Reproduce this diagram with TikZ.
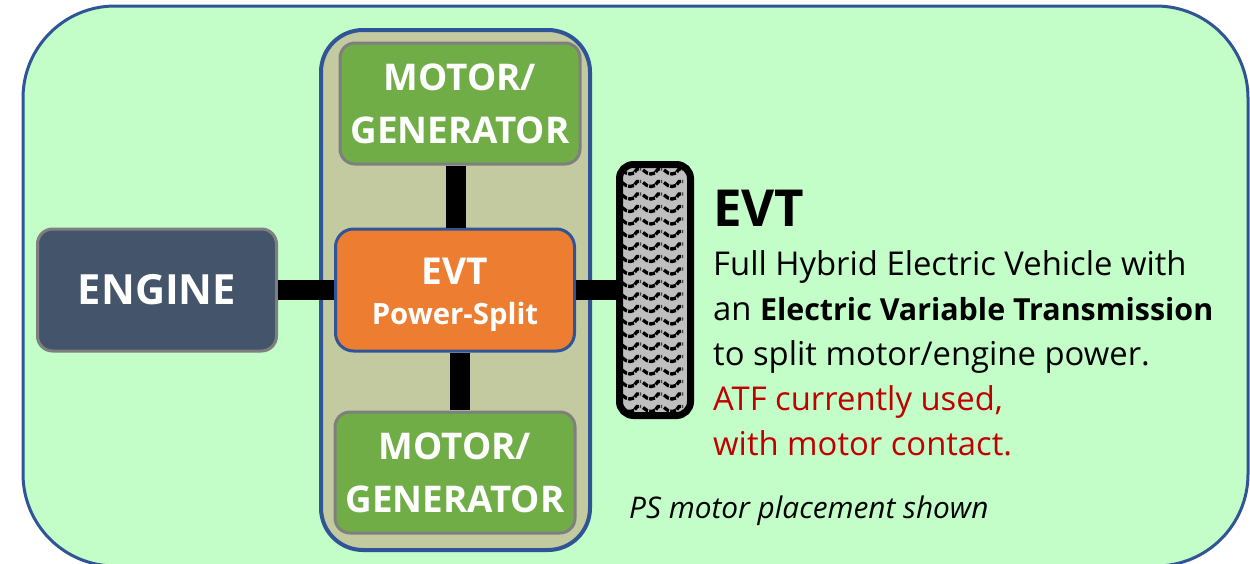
\documentclass[tikz,border=0pt]{standalone}
\usepackage{fontspec}
\setmainfont{Open Sans}
\definecolor{outerfill}{HTML}{C3FDC8}
\definecolor{blueline}{HTML}{2F5597}
\definecolor{panelfill}{HTML}{C4CAA0}
\definecolor{greenbox}{HTML}{70AD47}
\definecolor{greyline}{HTML}{7F7F7F}
\definecolor{navybox}{HTML}{44546A}
\definecolor{orangebox}{HTML}{ED7D31}
\definecolor{redtext}{HTML}{C00000}
\definecolor{treadgrey}{HTML}{BFBFBF}
\tikzset{
  motorbox/.style={draw=greyline,line width=3pt,fill=greenbox,rounded corners=15pt,minimum width=240pt,minimum height=121pt,inner sep=0pt,align=center,text=white,font=\fontsize{36.8}{53}\selectfont\bfseries},
  shaft/.style={line width=20pt,black},
  desc/.style={anchor=base west,inner sep=0pt,font=\fontsize{32.8}{36}\selectfont}
}
\begin{document}
\begin{tikzpicture}[x=1pt,y=-1pt]
\useasboundingbox (0,0) rectangle (1250,563);
\clip (0,0) rectangle (1250,563);
\draw[blueline,line width=3pt,fill=outerfill,rounded corners=92pt] (23,6) rectangle (1248,566);
\node[draw=blueline,line width=4pt,fill=panelfill,rounded corners=42pt,minimum width=269pt,minimum height=520pt,inner sep=0pt] (panel) at (455.5,290) {};
\node[motorbox] (mtop) at (460,103.5) {MOTOR/\\GENERATOR};
\node[motorbox] (mbot) at (455,472.5) {MOTOR/\\GENERATOR};
\node[draw=greyline,line width=3pt,fill=navybox,rounded corners=15pt,minimum width=239pt,minimum height=122pt,inner sep=0pt,text=white,font=\fontsize{41.6}{48}\selectfont\bfseries] (engine) at (157,290) {\raisebox{-1pt}{ENGINE}};
\node[draw=blueline,line width=3pt,fill=orangebox,rounded corners=18pt,minimum width=239pt,minimum height=122pt,inner sep=0pt] (evt) at (455,290) {};
\node[text=white,inner sep=0pt,font=\fontsize{37}{40}\selectfont\bfseries] (evtt) at (455,271) {EVT};
\node[text=white,inner sep=0pt,font=\fontsize{29.3}{32}\selectfont\bfseries] (evts) at (455,317) {Power-Split};
\node[draw=black,line width=7pt,fill=treadgrey,rounded corners=14pt,minimum width=71pt,minimum height=251pt,inner sep=0pt] (tire) at (655,290) {};
\begin{scope}
\clip (622,167) rectangle (688,414);
\foreach \r in {0,...,20}{
  \foreach \c in {0,1,2}{
    \draw[black,line width=3.3pt,dash pattern=on 6pt off 1.2pt]
      ({622+\c*21},{170+\r*12.5}) -- ++(4,3) -- ++(4,1) -- ++(4,-1) -- ++(3,-4) -- ++(4,0);
  }
}
\end{scope}
\draw[shaft] (engine.east) -- (evt.west);
\draw[shaft] (evt.east) -- (tire.west);
\draw[shaft] (mtop.south -| 456,0) -- (456,228);
\draw[shaft] (evt.south -| 460,0) -- (460,410);
\node[anchor=base west,inner sep=0pt,font=\fontsize{51}{54}\selectfont\bfseries] (title) at (713,226) {EVT};
\node[desc] (l1) at (713,275) {Full Hybrid Electric Vehicle with};
\node[desc] (l2) at (713,320) {an {\fontsize{30.4}{36}\selectfont\bfseries Electric Variable Transmission}};
\node[desc] (l3) at (713,365) {to split motor/engine power.};
\node[desc,text=redtext] (l4) at (713,410) {ATF currently used,};
\node[desc,text=redtext] (l5) at (713,455) {with motor contact.};
\node[anchor=base west,inner sep=0pt,font=\fontsize{29.8}{32}\selectfont\itshape] (note) at (629,518) {PS motor placement shown};
\end{tikzpicture}
\end{document}
